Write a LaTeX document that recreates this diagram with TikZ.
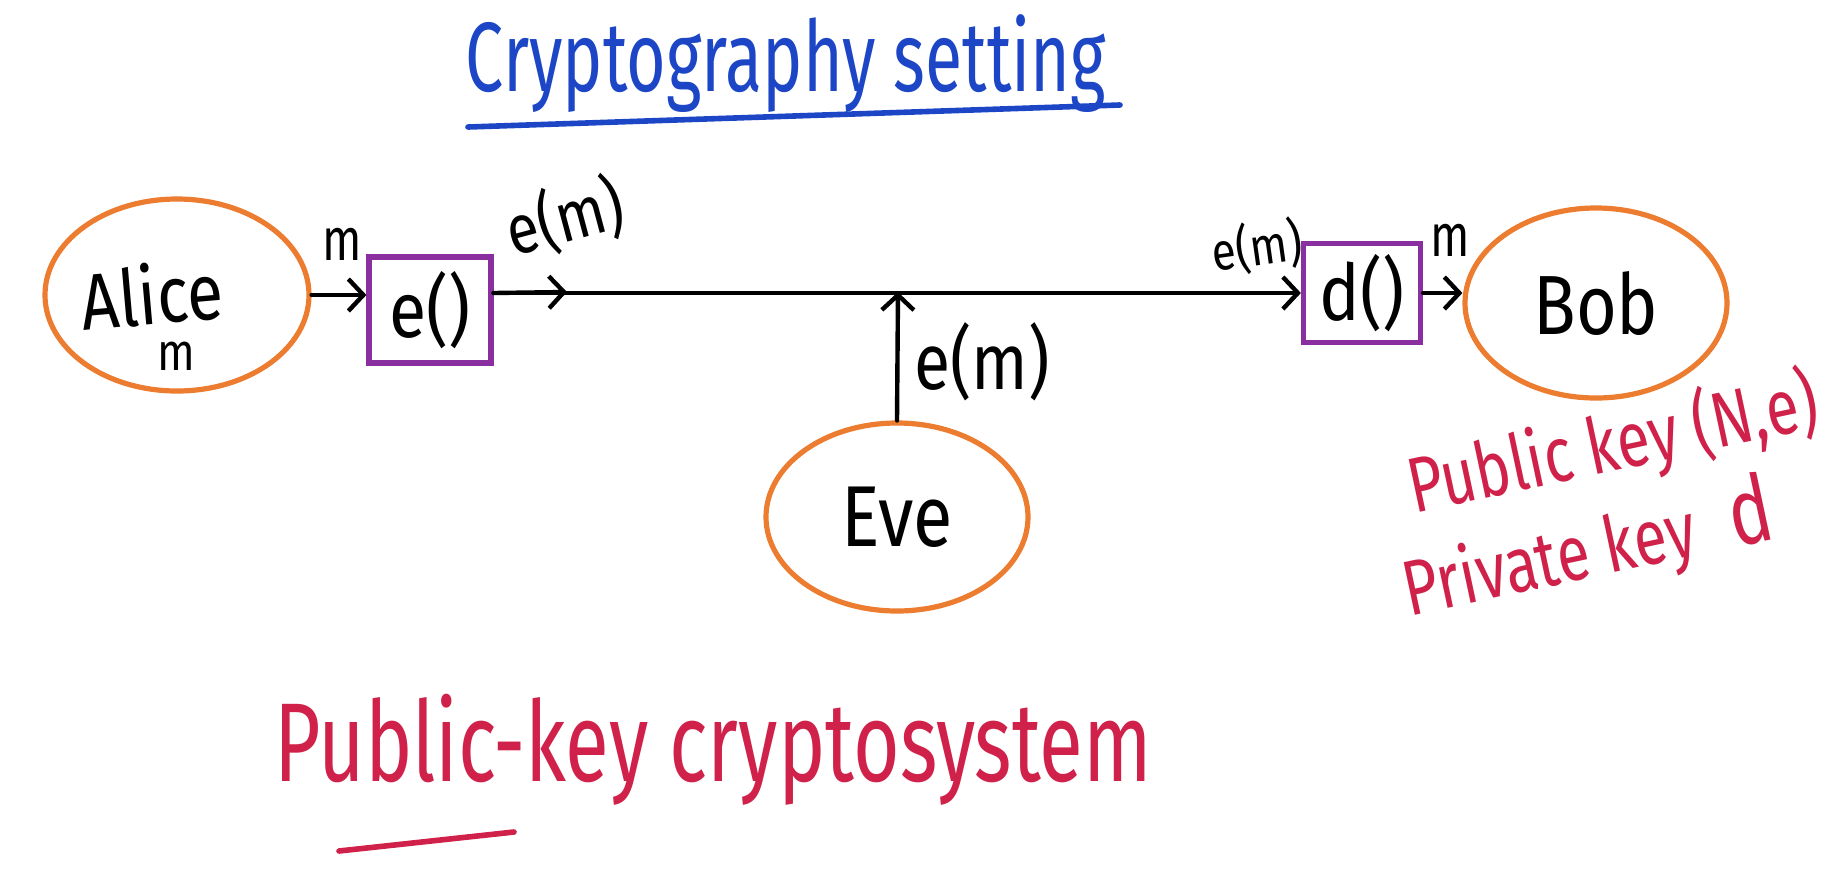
\documentclass[tikz,border=0pt]{standalone}
\usepackage{fontspec}
\usepackage{graphicx}
\setmainfont{Fira Sans}
\usetikzlibrary{shapes.geometric,arrows.meta}
\definecolor{hworange}{HTML}{EC7C30}
\definecolor{hwpurple}{HTML}{8A2FA0}
\definecolor{hwred}{HTML}{CF2149}
\definecolor{hwblue}{HTML}{1C46C6}
\newcommand{\hw}[3]{{\fontsize{#1}{#1}\selectfont\scalebox{1}[#2]{#3}}}
\begin{document}
\begin{tikzpicture}[x=0.5pt,y=-0.5pt,
  person/.style={ellipse, draw=hworange, line width=2.6pt, inner sep=0pt},
  fbox/.style={draw=hwpurple, line width=2.6pt, inner sep=0pt},
  lbl/.style={inner sep=0pt, text=black},
  arr/.style={line width=2.2pt, line cap=round, -{Straight Barb[length=7.5pt,width=16pt,line width=2.2pt]}},
  redtxt/.style={inner sep=0pt, text=hwred},
]
\useasboundingbox (0,0) rectangle (1833,891);
% title
\node[inner sep=0pt, text=hwblue] (title) at (786,64) {\hw{34}{1.45}{Cryptography setting}};
\coordinate (tl) at (468,127);
\coordinate (tr) at (1120,105);
\draw[hwblue, line width=2.8pt, line cap=round] (tl) -- (tr);
% participants
\node[person, minimum width=132pt, minimum height=96pt] (alice) at (177,295) {};
\node[lbl, rotate=5] (alicename) at (152,294) {\hw{33}{1.2}{Alice}};
\node[lbl] (alicem) at (176,356) {\hw{22}{1.2}{m}};
\node[person, minimum width=131pt, minimum height=95pt] (bob) at (1596,303) {\hw{35}{1.2}{Bob}};
\node[person, minimum width=131pt, minimum height=94pt] (eve) at (897,517) {\hw{36}{1.2}{Eve}};
% function boxes
\node[fbox, minimum width=61pt, minimum height=53pt] (ebox) at (430,310) {\hw{34}{1.15}{e()}};
\node[fbox, minimum width=58.5pt, minimum height=49.5pt] (dbox) at (1362,293) {\hw{34}{1.15}{d()}};
% connectors
\coordinate (emtip) at (567,292);
\coordinate (tap) at (898,292);
\draw[arr] (alice.east) -- (ebox.west |- alice.east);
\draw[arr] (ebox.east |- dbox.west) -- (emtip);
\draw[arr] (ebox.east |- dbox.west) -- (dbox.west);
\draw[arr] (dbox.east) -- (bob.west |- dbox.east);
\draw[arr] (eve.north) -- (tap);
% connector labels
\node[lbl] (m1) at (342,244) {\hw{23}{1.3}{m}};
\node[lbl, rotate=15] (em1) at (565,218) {\hw{29}{1.2}{e(m)}};
\node[lbl, rotate=8] (em2) at (1257,247) {\hw{22}{1.2}{e(m)}};
\node[lbl] (m2) at (1450,240) {\hw{23}{1.3}{m}};
\node[lbl] (em3) at (982,362) {\hw{33}{1.2}{e(m)}};
% keys
\node[redtxt, rotate=12] (pub) at (1613,446) {\hw{30}{1.3}{Public key (N,e)}};
\node[redtxt, rotate=12] (priv) at (1588,551) {\hw{30}{1.3}{Private key\hspace{0.6em}{\fontsize{36}{36}\selectfont d}}};
% bottom caption
\node[redtxt] (caption) at (713,750) {\hw{40}{1.4}{Public-key cryptosystem}};
\coordinate (ul) at (339,851);
\coordinate (ur) at (514,832);
\draw[hwred, line width=2.8pt, line cap=round] (ul) -- (ur);
\end{tikzpicture}
\end{document}
